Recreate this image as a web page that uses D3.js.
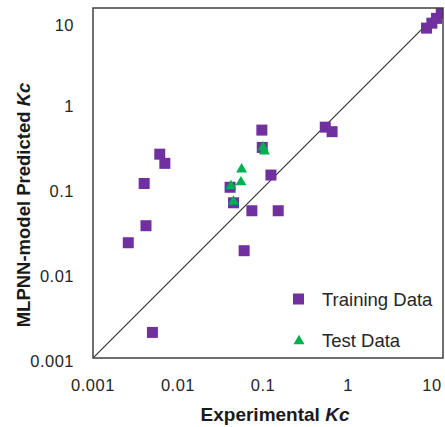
<!DOCTYPE html>
<html>
<head>
<meta charset="utf-8">
<script src="https://cdn.jsdelivr.net/npm/d3@7"></script>
<style>
  html, body { margin: 0; padding: 0; background: #fff; }
  svg { display: block; }
  text { font-family: "Liberation Sans", Arial, sans-serif; }
</style>
</head>
<body>
<svg id="chart" width="445" height="427"></svg>
<script>
// Experimental vs. predicted Kc values
const trainX = [0.097, 0.098, 0.0061, 0.0070, 0.0040, 0.041, 0.045, 0.124, 0.074, 0.151,
                0.0042, 0.0026, 0.060, 0.0050, 0.54, 0.65, 8.4, 9.7, 11.0, 12.5];
const trainY = [0.48, 0.30, 0.25, 0.195, 0.113, 0.102, 0.067, 0.142, 0.054, 0.054,
                0.036, 0.0227, 0.0183, 0.0020, 0.52, 0.46, 7.6, 8.7, 9.9, 11.4];
const testX = [0.100, 0.104, 0.056, 0.055, 0.042, 0.045];
const testY = [0.30, 0.27, 0.166, 0.117, 0.105, 0.069];
const tickValues = [0.001, 0.01, 0.1, 1, 10];
const tickLabels = ["0.001", "0.01", "0.1", "1", "10"];
const seriesNames = ["Training Data", "Test Data"];

const svg = d3.select("#chart");
const plot = { left: 93, right: 443, top: 8, bottom: 358 };

const x = d3.scaleLog().domain([0.001, 10]).range([93, 433]);
const y = d3.scaleLog().domain([0.001, 10]).range([358, 18]);

svg.append("defs").append("clipPath").attr("id", "plotClip")
  .append("rect")
  .attr("x", plot.left).attr("y", plot.top)
  .attr("width", plot.right - plot.left).attr("height", plot.bottom - plot.top);

const g = svg.append("g").attr("clip-path", "url(#plotClip)");

// 1:1 reference line, corner to corner
const diagMax = x.invert(plot.right);
const line = d3.line().x(d => x(d)).y(d => y(d));
g.append("path")
  .attr("d", line([0.001, diagMax]))
  .attr("fill", "none")
  .attr("stroke", "#2a2a2a")
  .attr("stroke-width", 1.1);

const purple = "#7030a0";
const green = "#00b050";
const sq = 11;

// training points (squares)
g.selectAll("rect.train")
  .data(trainX.map((v, i) => [v, trainY[i]]))
  .join("rect")
  .attr("class", "train")
  .attr("x", d => x(d[0]) - sq / 2)
  .attr("y", d => y(d[1]) - sq / 2)
  .attr("width", sq).attr("height", sq)
  .attr("fill", purple);

// test points (triangles)
const tri = d3.symbol().type(d3.symbolTriangle).size(52);
g.selectAll("path.test")
  .data(testX.map((v, i) => [v, testY[i]]))
  .join("path")
  .attr("class", "test")
  .attr("d", tri)
  .attr("transform", d => `translate(${x(d[0])},${y(d[1])})`)
  .attr("fill", green);

// plot frame
svg.append("rect")
  .attr("x", plot.left).attr("y", plot.top)
  .attr("width", plot.right - plot.left).attr("height", plot.bottom - plot.top)
  .attr("fill", "none")
  .attr("stroke", "#404040")
  .attr("stroke-width", 1.5);

// axis tick labels
const labelStyle = sel => sel
  .attr("font-size", 16.5)
  .attr("letter-spacing", 0.5)
  .attr("fill", "#262626");

svg.append("g").selectAll("text")
  .data(tickValues)
  .join("text")
  .attr("x", d => Math.min(x(d), 432))
  .attr("y", 391)
  .attr("text-anchor", "middle")
  .text((d, i) => tickLabels[i])
  .call(labelStyle);

svg.append("g").selectAll("text")
  .data(tickValues)
  .join("text")
  .attr("x", 74)
  .attr("y", d => Math.max(y(d), 22) + 3)
  .attr("dy", "0.35em")
  .attr("text-anchor", "end")
  .text((d, i) => tickLabels[i])
  .call(labelStyle);

// axis titles
const xt = svg.append("text")
  .attr("x", 275).attr("y", 421)
  .attr("text-anchor", "middle")
  .attr("font-size", 19)
  .attr("font-weight", "bold")
  .attr("fill", "#1a1a1a");
xt.append("tspan").text("Experimental ");
xt.append("tspan").attr("font-style", "italic").text("Kc");

const yt = svg.append("text")
  .attr("transform", "translate(30,205) rotate(-90)")
  .attr("text-anchor", "middle")
  .attr("font-size", 18.5)
  .attr("font-weight", "bold")
  .attr("fill", "#1a1a1a");
yt.append("tspan").text("MLPNN-model Predicted ");
yt.append("tspan").attr("font-style", "italic").text("Kc");

// legend
const legend = svg.append("g");
legend.append("rect")
  .attr("x", 293).attr("y", 293.5)
  .attr("width", 11).attr("height", 11)
  .attr("fill", purple);
legend.append("path")
  .attr("d", tri)
  .attr("transform", "translate(299,341)")
  .attr("fill", green);
legend.selectAll("text.leg")
  .data(seriesNames)
  .join("text")
  .attr("class", "leg")
  .attr("x", 322)
  .attr("y", (d, i) => 305.5 + i * 41.5)
  .attr("font-size", 18.5)
  .attr("fill", "#262626")
  .text(d => d);
</script>
</body>
</html>
